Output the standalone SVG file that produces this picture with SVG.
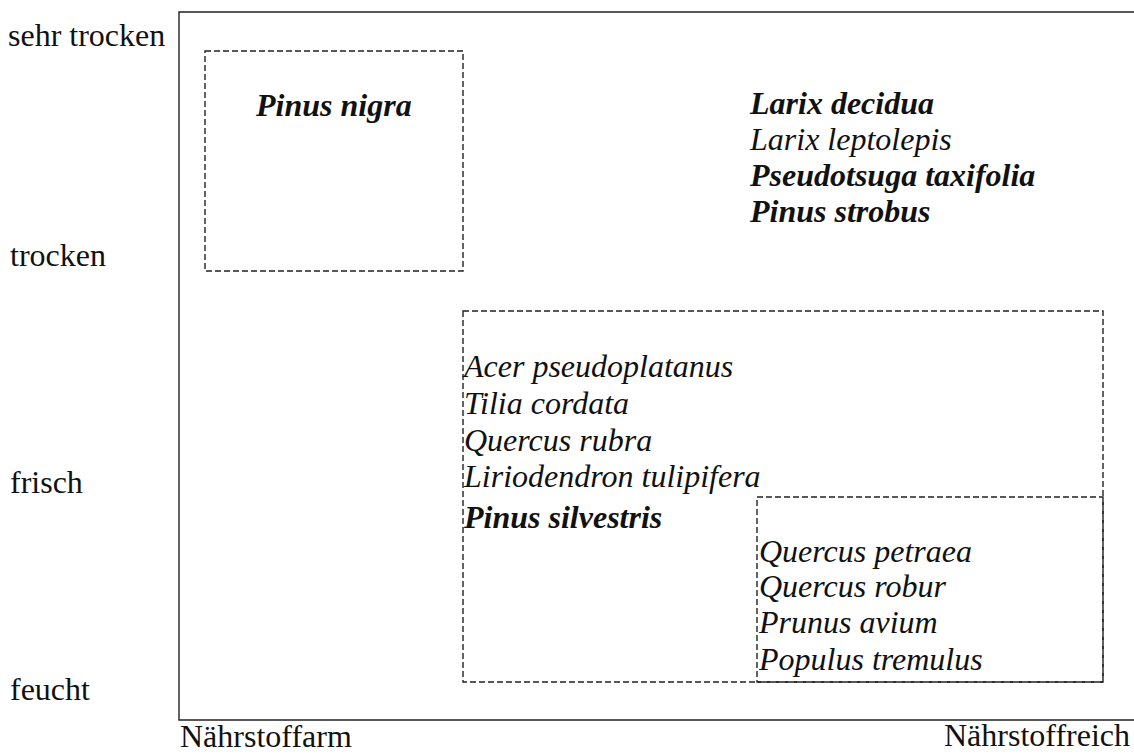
<svg xmlns="http://www.w3.org/2000/svg" width="1134" height="755" viewBox="0 0 1134 755">
<style>
text{font-family:"Liberation Serif","Times New Roman",serif;fill:#111}
.ax{font-size:32px}
.sp{font-size:32px;font-style:italic}
.b{font-weight:bold}
.frame{fill:none;stroke:#222;stroke-width:1.4}
.dash{fill:none;stroke:#222;stroke-width:1.4;stroke-dasharray:6 3}
</style>
<rect width="1134" height="755" fill="#fff"/>
<g id="axes">
<path class="frame" d="M1134 12 H179 V720 H1134"/>
<text class="ax" x="8" y="46">sehr trocken</text>
<text class="ax" x="10" y="266">trocken</text>
<text class="ax" x="10" y="493">frisch</text>
<text class="ax" x="10" y="700">feucht</text>
<text class="ax" x="180" y="747">Nährstoffarm</text>
<text class="ax" x="944" y="746">Nährstoffreich</text>
</g>
<g id="box-nigra">
<rect class="dash" x="205" y="51" width="258" height="220"/>
<text class="sp b" x="256" y="116">Pinus nigra</text>
</g>
<g id="group-larix">
<text class="sp b" x="750" y="114">Larix decidua</text>
<text class="sp" x="750" y="150">Larix leptolepis</text>
<text class="sp b" x="750" y="186">Pseudotsuga taxifolia</text>
<text class="sp b" x="750" y="222">Pinus strobus</text>
</g>
<g id="box-acer">
<rect class="dash" x="463" y="311" width="640" height="371"/>
<text class="sp" x="464" y="377">Acer pseudoplatanus</text>
<text class="sp" x="464" y="414">Tilia cordata</text>
<text class="sp" x="464" y="451">Quercus rubra</text>
<text class="sp" x="464" y="487">Liriodendron tulipifera</text>
<text class="sp b" x="464" y="528">Pinus silvestris</text>
</g>
<g id="box-quercus">
<rect class="dash" x="757" y="497" width="346" height="185"/>
<text class="sp" x="759" y="562">Quercus petraea</text>
<text class="sp" x="759" y="597">Quercus robur</text>
<text class="sp" x="759" y="633">Prunus avium</text>
<text class="sp" x="759" y="670">Populus tremulus</text>
</g>
</svg>
